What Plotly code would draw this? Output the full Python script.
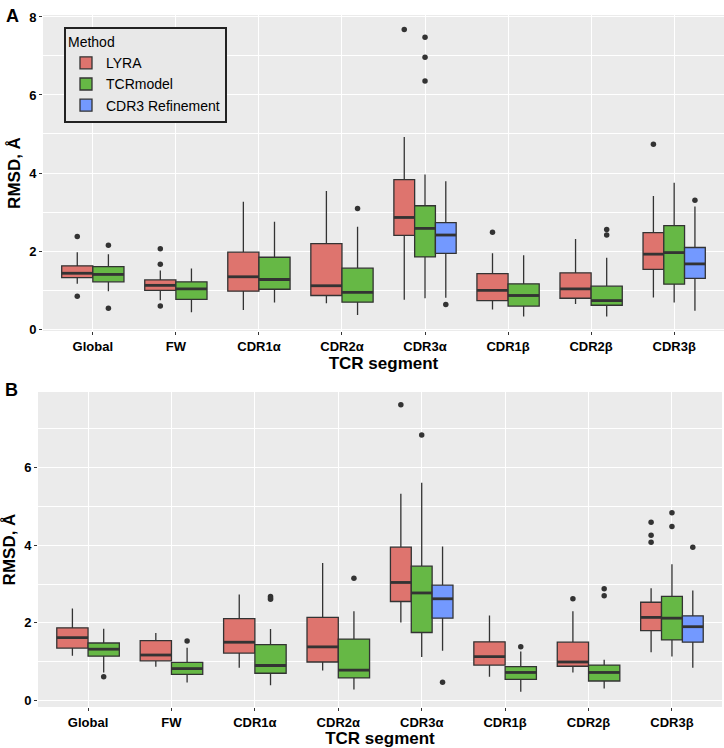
import plotly.graph_objects as go

CATEGORIES = ["Global", "FW", "CDR1α", "CDR2α", "CDR3α", "CDR1β", "CDR2β", "CDR3β"]
METHODS = ["LYRA", "TCRmodel", "CDR3 Refinement"]
COLORS = ["#DE746E", "#66B845", "#7399FF"]

# ---------------- Panel A ----------------
A_LYRA_LOW = [1.16, 0.74, 0.49, 0.66, 0.75, 0.50, 0.64, 0.81]
A_LYRA_Q1 = [1.32, 0.99, 0.97, 0.86, 2.40, 0.73, 0.79, 1.53]
A_LYRA_MED = [1.43, 1.12, 1.34, 1.11, 2.86, 0.99, 1.03, 1.92]
A_LYRA_Q3 = [1.62, 1.26, 1.97, 2.19, 3.83, 1.42, 1.44, 2.47]
A_LYRA_HIGH = [1.97, 1.50, 3.26, 3.54, 4.92, 1.94, 2.31, 3.41]
A_LYRA_OUT = [[2.37, 0.84], [2.06, 1.66, 0.59], [], [], [7.68], [2.48], [], [4.74]]

A_TCR_LOW = [0.97, 0.43, 0.68, 0.36, 0.79, 0.32, 0.32, 0.68]
A_TCR_Q1 = [1.21, 0.76, 1.02, 0.69, 1.85, 0.59, 0.61, 1.15]
A_TCR_MED = [1.40, 1.03, 1.27, 0.94, 2.58, 0.86, 0.73, 1.96]
A_TCR_Q3 = [1.60, 1.21, 1.84, 1.56, 3.16, 1.16, 1.10, 2.65]
A_TCR_HIGH = [1.92, 1.55, 2.75, 2.62, 3.96, 1.89, 1.83, 3.75]
A_TCR_OUT = [[2.15, 0.53], [], [], [3.09], [7.48, 6.97, 6.36], [], [2.55, 2.41], []]

A_REF_LOW = [None, None, None, None, 0.80, None, None, 0.47]
A_REF_Q1 = [None, None, None, None, 1.94, None, None, 1.30]
A_REF_MED = [None, None, None, None, 2.41, None, None, 1.67]
A_REF_Q3 = [None, None, None, None, 2.73, None, None, 2.09]
A_REF_HIGH = [None, None, None, None, 3.79, None, None, 3.14]
A_REF_OUT = [[], [], [], [], [0.63], [], [], [3.30]]

# ---------------- Panel B ----------------
B_LYRA_LOW = [1.15, 0.87, 0.84, 0.77, 2.01, 0.61, 0.72, 1.24]
B_LYRA_Q1 = [1.35, 1.02, 1.22, 0.99, 2.55, 0.91, 0.88, 1.80]
B_LYRA_MED = [1.62, 1.17, 1.50, 1.38, 3.04, 1.13, 0.99, 2.14]
B_LYRA_Q3 = [1.87, 1.54, 2.11, 2.14, 3.95, 1.51, 1.50, 2.53]
B_LYRA_HIGH = [2.37, 1.74, 2.73, 3.54, 5.33, 2.19, 2.30, 2.89]
B_LYRA_OUT = [[], [], [], [], [7.62], [], [2.62], [4.59, 4.26, 4.08]]

B_TCR_LOW = [0.72, 0.46, 0.39, 0.28, 1.12, 0.22, 0.31, 1.13]
B_TCR_Q1 = [1.14, 0.67, 0.70, 0.58, 1.75, 0.54, 0.50, 1.56]
B_TCR_MED = [1.32, 0.82, 0.90, 0.78, 2.77, 0.72, 0.72, 2.12]
B_TCR_Q3 = [1.48, 0.98, 1.44, 1.58, 3.46, 0.87, 0.91, 2.68]
B_TCR_HIGH = [1.85, 1.36, 1.84, 2.30, 5.61, 1.26, 1.05, 3.51]
B_TCR_OUT = [[0.61], [1.53], [2.68, 2.64, 2.61], [3.15], [6.84], [1.38], [2.88, 2.70], [4.84, 4.48]]

B_REF_LOW = [None, None, None, None, 1.28, None, None, 0.84]
B_REF_Q1 = [None, None, None, None, 2.12, None, None, 1.50]
B_REF_MED = [None, None, None, None, 2.62, None, None, 1.90]
B_REF_Q3 = [None, None, None, None, 2.97, None, None, 2.18]
B_REF_HIGH = [None, None, None, None, 3.97, None, None, 2.83]
B_REF_OUT = [[], [], [], [], [0.47], [], [], [3.95]]

PANELS = [
    [(A_LYRA_LOW, A_LYRA_Q1, A_LYRA_MED, A_LYRA_Q3, A_LYRA_HIGH, A_LYRA_OUT),
     (A_TCR_LOW, A_TCR_Q1, A_TCR_MED, A_TCR_Q3, A_TCR_HIGH, A_TCR_OUT),
     (A_REF_LOW, A_REF_Q1, A_REF_MED, A_REF_Q3, A_REF_HIGH, A_REF_OUT)],
    [(B_LYRA_LOW, B_LYRA_Q1, B_LYRA_MED, B_LYRA_Q3, B_LYRA_HIGH, B_LYRA_OUT),
     (B_TCR_LOW, B_TCR_Q1, B_TCR_MED, B_TCR_Q3, B_TCR_HIGH, B_TCR_OUT),
     (B_REF_LOW, B_REF_Q1, B_REF_MED, B_REF_Q3, B_REF_HIGH, B_REF_OUT)],
]

LINE = "#333333"
DODGE = 0.75

fig = go.Figure()
legend_done = set()

for p, panel in enumerate(PANELS):
    xa = "x" if p == 0 else "x2"
    ya = "y" if p == 0 else "y2"
    present = [[m for m in range(3) if panel[m][2][c] is not None] for c in range(len(CATEGORIES))]
    for m in range(3):
        low, q1, med, q3, high, outs = panel[m]
        groups = {}
        for c in range(len(CATEGORIES)):
            if med[c] is None:
                continue
            n = len(present[c])
            k = present[c].index(m)
            w = DODGE / n
            pos = (c + 1) - DODGE / 2 + w * (k + 0.5)
            groups.setdefault(n, []).append((c, pos, w))
        for n, items in groups.items():
            w = items[0][2]
            xs = [it[1] for it in items]
            cs = [it[0] for it in items]
            show = m not in legend_done
            legend_done.add(m)
            fig.add_trace(go.Box(
                x=xs,
                q1=[q1[c] for c in cs], median=[med[c] for c in cs], q3=[q3[c] for c in cs],
                lowerfence=[low[c] for c in cs], upperfence=[high[c] for c in cs],
                width=w, whiskerwidth=0, boxpoints=False,
                fillcolor=COLORS[m], line=dict(color=LINE, width=1.3),
                name=METHODS[m], legendgroup=METHODS[m], showlegend=show,
                xaxis=xa, yaxis=ya, hoverinfo="skip",
            ))
            mx, my = [], []
            for c, pos in zip(cs, xs):
                mx += [pos - w / 2, pos + w / 2, None]
                my += [med[c], med[c], None]
            fig.add_trace(go.Scatter(x=mx, y=my, mode="lines",
                                     line=dict(color=LINE, width=2.8),
                                     showlegend=False, hoverinfo="skip",
                                     xaxis=xa, yaxis=ya))
            ox, oy = [], []
            for c, pos in zip(cs, xs):
                for v in outs[c]:
                    ox.append(pos)
                    oy.append(v)
            if ox:
                fig.add_trace(go.Scatter(x=ox, y=oy, mode="markers",
                                         marker=dict(color=LINE, size=5.5),
                                         showlegend=False, hoverinfo="skip",
                                         xaxis=xa, yaxis=ya))

TICKFONT = dict(family="Liberation Sans Narrow, Liberation Sans, Arial, sans-serif", size=13, color="black", weight="bold")
TITLEFONT = dict(family="Liberation Sans, Arial, sans-serif", size=17, color="black", weight="bold")

def xaxis(domain, anchor):
    return dict(domain=domain, anchor=anchor, range=[0.4, 8.6], automargin=False,
                tickvals=list(range(1, len(CATEGORIES) + 1)), ticktext=CATEGORIES,
                showgrid=True, gridcolor="white", gridwidth=1.3, zeroline=False,
                ticks="outside", ticklen=3, tickcolor="#333333", tickwidth=1,
                tickfont=TICKFONT, showline=False,
                title=dict(text="TCR segment", font=TITLEFONT, standoff=0))

def yaxis(domain, anchor, rng):
    return dict(domain=domain, anchor=anchor, range=rng, automargin=False,
                tickvals=[0, 2, 4, 6, 8], showgrid=True, gridcolor="white", gridwidth=1.3,
                zeroline=False, ticks="outside", ticklen=3, tickcolor="#333333", tickwidth=1,
                tickfont=TICKFONT,
                minor=dict(dtick=1, tick0=0, showgrid=True, gridcolor="white", gridwidth=0.6, ticks=""),
                title=dict(text="RMSD, Å", font=TITLEFONT, standoff=4))

W, H = 724, 748
LEGFONT = dict(family="Liberation Sans, Arial, sans-serif", size=14, color="black")
fig.update_layout(
    width=W, height=H,
    margin=dict(l=0, r=0, t=0, b=0),
    paper_bgcolor="white", plot_bgcolor="#EBEBEB",
    boxmode="overlay",
    xaxis=xaxis([43 / W, 1.0], "y"),
    yaxis=yaxis([1 - 331 / H, 1 - 15 / H], "x", [-0.05, 8.05]),
    xaxis2=xaxis([38 / W, 722 / W], "y2"),
    yaxis2=yaxis([1 - 707 / H, 1 - 392 / H], "x2", [-0.17, 7.95]),
    legend=dict(x=64 / W, y=1 - 27 / H, xanchor="left", yanchor="top",
                bgcolor="#E8E8E8", bordercolor="#222222", borderwidth=2,
                font=LEGFONT, title=dict(text="Method", side="top", font=LEGFONT),
                itemwidth=30, tracegroupgap=0),
    annotations=[
        dict(text="<b>A</b>", x=4 / W, y=1 - 4 / H, xref="paper", yref="paper",
             xanchor="left", yanchor="top", showarrow=False,
             font=dict(family="Liberation Sans, Arial, sans-serif", size=18, color="black")),
        dict(text="<b>B</b>", x=3 / W, y=1 - 378 / H, xref="paper", yref="paper",
             xanchor="left", yanchor="top", showarrow=False,
             font=dict(family="Liberation Sans, Arial, sans-serif", size=18, color="black")),
    ],
)

fig.write_html("out.html", config={"displayModeBar": False},
               post_script="document.body.style.margin='0px';")
